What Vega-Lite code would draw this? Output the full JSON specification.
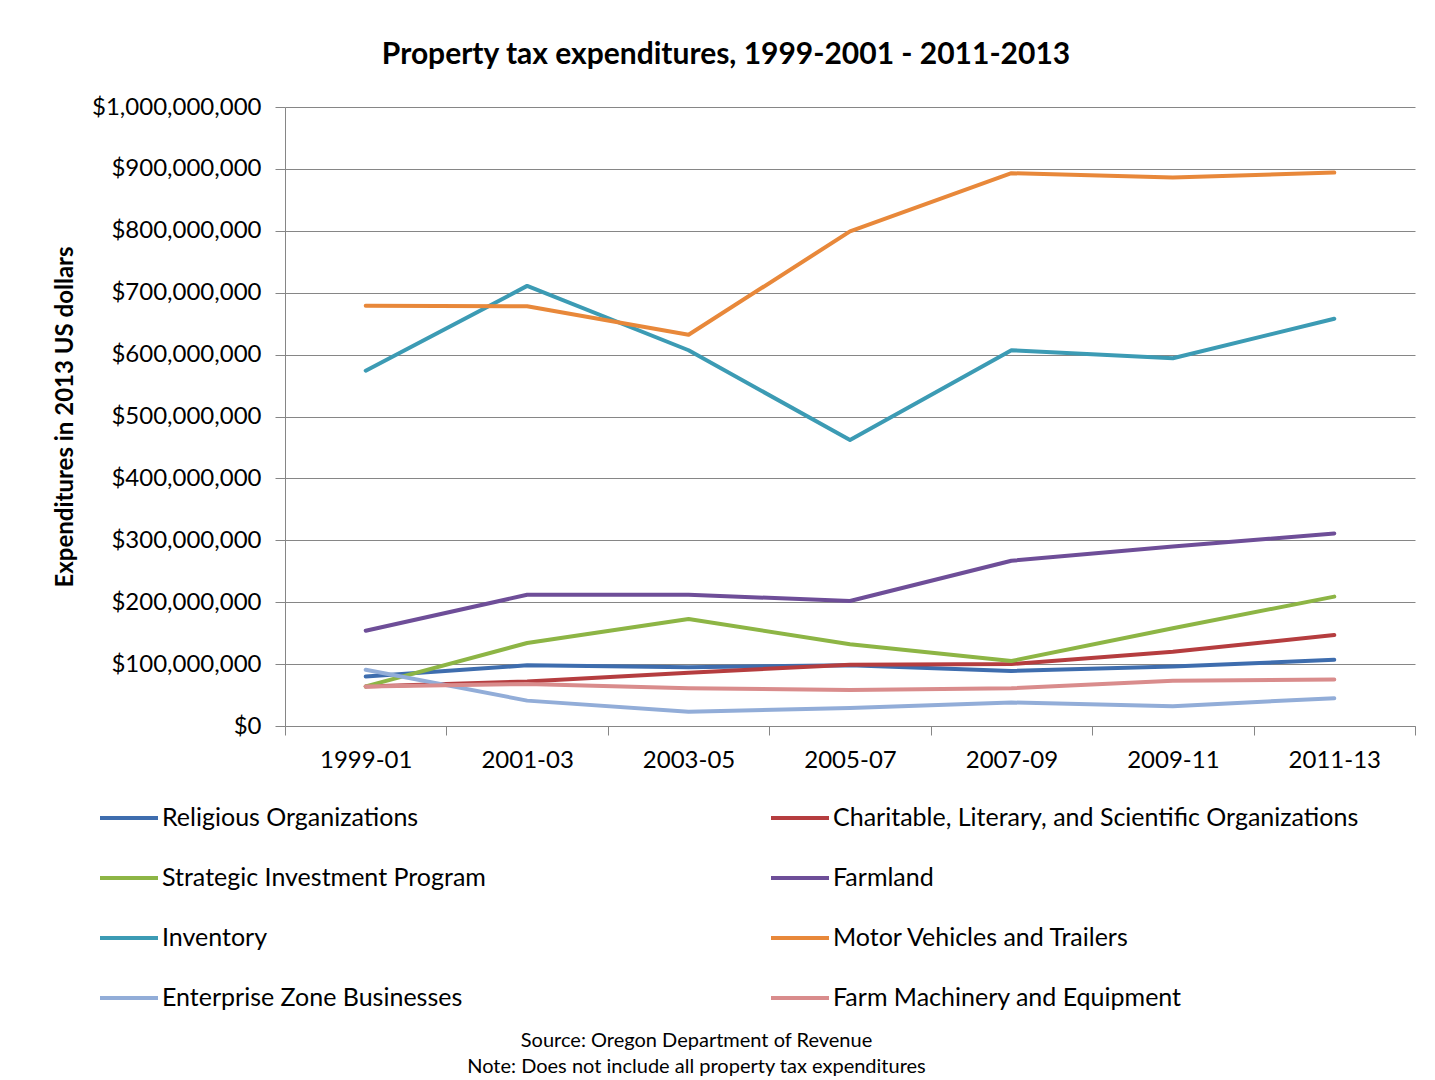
{
  "$schema": "https://vega.github.io/schema/vega-lite/v6.json",
  "autosize": {"type": "none"},
  "padding": {"left": 285, "top": 107, "right": 20, "bottom": 354},
  "width": 1130,
  "height": 619,
  "background": "white",
  "config": {
    "font": "Lato",
    "view": {"stroke": null},
    "axis": {"labelFont": "Lato", "titleFont": "Lato"},
    "legend": {"labelFont": "Lato"}
  },
  "title": {
    "text": "Property tax expenditures, 1999-2001 - 2011-2013",
    "fontSize": 30,
    "fontWeight": "bold",
    "color": "#000000",
    "anchor": "middle",
    "dx": -124,
    "offset": 25
  },
  "data": {
    "values": [
      {"period": "1999-01", "series": "Religious Organizations", "value": 80000000},
      {"period": "2001-03", "series": "Religious Organizations", "value": 98000000},
      {"period": "2003-05", "series": "Religious Organizations", "value": 95000000},
      {"period": "2005-07", "series": "Religious Organizations", "value": 98000000},
      {"period": "2007-09", "series": "Religious Organizations", "value": 89000000},
      {"period": "2009-11", "series": "Religious Organizations", "value": 96000000},
      {"period": "2011-13", "series": "Religious Organizations", "value": 107000000},
      {"period": "1999-01", "series": "Charitable, Literary, and Scientific Organizations", "value": 64000000},
      {"period": "2001-03", "series": "Charitable, Literary, and Scientific Organizations", "value": 72000000},
      {"period": "2003-05", "series": "Charitable, Literary, and Scientific Organizations", "value": 86000000},
      {"period": "2005-07", "series": "Charitable, Literary, and Scientific Organizations", "value": 99000000},
      {"period": "2007-09", "series": "Charitable, Literary, and Scientific Organizations", "value": 100000000},
      {"period": "2009-11", "series": "Charitable, Literary, and Scientific Organizations", "value": 120000000},
      {"period": "2011-13", "series": "Charitable, Literary, and Scientific Organizations", "value": 147000000},
      {"period": "1999-01", "series": "Strategic Investment Program", "value": 64000000},
      {"period": "2001-03", "series": "Strategic Investment Program", "value": 134000000},
      {"period": "2003-05", "series": "Strategic Investment Program", "value": 173000000},
      {"period": "2005-07", "series": "Strategic Investment Program", "value": 132000000},
      {"period": "2007-09", "series": "Strategic Investment Program", "value": 105000000},
      {"period": "2009-11", "series": "Strategic Investment Program", "value": 158000000},
      {"period": "2011-13", "series": "Strategic Investment Program", "value": 209000000},
      {"period": "1999-01", "series": "Farmland", "value": 154000000},
      {"period": "2001-03", "series": "Farmland", "value": 212000000},
      {"period": "2003-05", "series": "Farmland", "value": 212000000},
      {"period": "2005-07", "series": "Farmland", "value": 202000000},
      {"period": "2007-09", "series": "Farmland", "value": 267000000},
      {"period": "2009-11", "series": "Farmland", "value": 290000000},
      {"period": "2011-13", "series": "Farmland", "value": 311000000},
      {"period": "1999-01", "series": "Inventory", "value": 574000000},
      {"period": "2001-03", "series": "Inventory", "value": 711000000},
      {"period": "2003-05", "series": "Inventory", "value": 607000000},
      {"period": "2005-07", "series": "Inventory", "value": 462000000},
      {"period": "2007-09", "series": "Inventory", "value": 607000000},
      {"period": "2009-11", "series": "Inventory", "value": 594000000},
      {"period": "2011-13", "series": "Inventory", "value": 658000000},
      {"period": "1999-01", "series": "Motor Vehicles and Trailers", "value": 679000000},
      {"period": "2001-03", "series": "Motor Vehicles and Trailers", "value": 678000000},
      {"period": "2003-05", "series": "Motor Vehicles and Trailers", "value": 632000000},
      {"period": "2005-07", "series": "Motor Vehicles and Trailers", "value": 799000000},
      {"period": "2007-09", "series": "Motor Vehicles and Trailers", "value": 893000000},
      {"period": "2009-11", "series": "Motor Vehicles and Trailers", "value": 886000000},
      {"period": "2011-13", "series": "Motor Vehicles and Trailers", "value": 894000000},
      {"period": "1999-01", "series": "Enterprise Zone Businesses", "value": 91000000},
      {"period": "2001-03", "series": "Enterprise Zone Businesses", "value": 41000000},
      {"period": "2003-05", "series": "Enterprise Zone Businesses", "value": 23000000},
      {"period": "2005-07", "series": "Enterprise Zone Businesses", "value": 29000000},
      {"period": "2007-09", "series": "Enterprise Zone Businesses", "value": 38000000},
      {"period": "2009-11", "series": "Enterprise Zone Businesses", "value": 32000000},
      {"period": "2011-13", "series": "Enterprise Zone Businesses", "value": 45000000},
      {"period": "1999-01", "series": "Farm Machinery and Equipment", "value": 64000000},
      {"period": "2001-03", "series": "Farm Machinery and Equipment", "value": 68000000},
      {"period": "2003-05", "series": "Farm Machinery and Equipment", "value": 61000000},
      {"period": "2005-07", "series": "Farm Machinery and Equipment", "value": 58000000},
      {"period": "2007-09", "series": "Farm Machinery and Equipment", "value": 61000000},
      {"period": "2009-11", "series": "Farm Machinery and Equipment", "value": 73000000},
      {"period": "2011-13", "series": "Farm Machinery and Equipment", "value": 75000000}
    ]
  },
  "mark": {"type": "line", "strokeWidth": 4, "strokeCap": "round", "strokeJoin": "round"},
  "encoding": {
    "x": {
      "field": "period",
      "type": "ordinal",
      "bandPosition": 0.5,
      "scale": {"type": "band", "paddingInner": 0, "paddingOuter": 0},
      "axis": {
        "title": ["Source: Oregon Department of Revenue", "Note: Does not include all property tax expenditures"],
        "titleFontSize": 20,
        "titleFontWeight": "normal",
        "titleColor": "#000000",
        "titleLineHeight": 26,
        "titleX": 411,
        "titleAlign": "center",
        "titlePadding": 258,
        "labelAngle": 0,
        "labelFontSize": 24,
        "labelColor": "#000000",
        "labelPadding": 13,
        "tickBand": "extent",
        "tickSize": 9,
        "tickColor": "#868686",
        "domainColor": "#868686",
        "grid": false
      }
    },
    "y": {
      "field": "value",
      "type": "quantitative",
      "scale": {"domain": [0, 1000000000], "nice": false},
      "axis": {
        "title": "Expenditures in 2013 US dollars",
        "titleFontSize": 24,
        "titleFontWeight": "bold",
        "titleColor": "#000000",
        "titlePadding": 14,
        "values": [0, 100000000, 200000000, 300000000, 400000000, 500000000, 600000000, 700000000, 800000000, 900000000, 1000000000],
        "format": "$,.0f",
        "labelFontSize": 24,
        "labelColor": "#000000",
        "labelPadding": 14,
        "tickSize": 10,
        "tickColor": "#868686",
        "domainColor": "#868686",
        "gridColor": "#868686",
        "gridWidth": 1
      }
    },
    "color": {
      "field": "series",
      "type": "nominal",
      "sort": null,
      "scale": {
        "domain": ["Religious Organizations", "Strategic Investment Program", "Inventory", "Enterprise Zone Businesses", "Charitable, Literary, and Scientific Organizations", "Farmland", "Motor Vehicles and Trailers", "Farm Machinery and Equipment"],
        "range": ["#3E6DAE", "#8DB545", "#3C9BB4", "#92ADD8", "#B53D3F", "#6E4E98", "#E8883A", "#D98C8C"]
      },
      "legend": {
        "title": null,
        "orient": "none",
        "legendX": -187,
        "legendY": 680,
        "columns": 2,
        "columnPadding": 277,
        "rowPadding": 16,
        "symbolType": "stroke",
        "symbolSize": 3364,
        "symbolStrokeWidth": 4,
        "labelFontSize": 25,
        "labelColor": "#000000",
        "labelOffset": 2,
        "labelLimit": 700
      }
    }
  }
}
